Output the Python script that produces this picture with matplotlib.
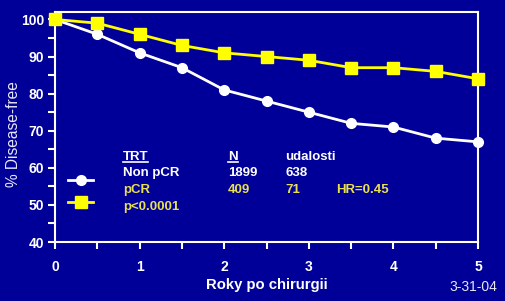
import matplotlib
matplotlib.use("Agg")
from matplotlib import pyplot as plt
from matplotlib.lines import Line2D

years = [0, 0.5, 1, 1.5, 2, 2.5, 3, 3.5, 4, 4.5, 5]
non_pcr = [100, 96, 91, 87, 81, 78, 75, 72, 71, 68, 67]
pcr = [100, 99, 96, 93, 91, 90, 89, 87, 87, 86, 84]

x_ticks = [0, 0.5, 1, 1.5, 2, 2.5, 3, 3.5, 4, 4.5, 5]
x_labels = ["0", "", "1", "", "2", "", "3", "", "4", "", "5"]
y_major = [40, 50, 60, 70, 80, 90, 100]
y_minor = [45, 55, 65, 75, 85, 95]

bg = "#000099"
white = "#FFFFFF"
yellow = "#FFFF00"
txt_yellow = "#E8E050"

plt.rcParams["font.family"] = ["Liberation Sans", "DejaVu Sans"]

fig = plt.figure(figsize=(5.06, 3.01), dpi=100, facecolor=bg)
ax = fig.add_axes([0.1087, 0.196, 0.836, 0.764])
ax.set_facecolor(bg)

ax.plot(years, non_pcr, color=white, lw=2, marker="o", ms=7, clip_on=False, zorder=3)
ax.plot(years, pcr, color=yellow, lw=2, marker="s", ms=8, clip_on=False, zorder=3)

ax.set_xlim(0, 5)
ax.set_ylim(40, 102)
ax.set_xticks(x_ticks)
ax.set_xticklabels(x_labels)
ax.set_yticks(y_major)
ax.set_yticks(y_minor, minor=True)

for s in ax.spines.values():
    s.set_color(white)
    s.set_linewidth(1.5)

ax.tick_params(axis="x", colors=white, length=5, width=1.5, pad=8, labelsize=10)
ax.tick_params(axis="y", which="both", colors=white, length=5, width=1.5, pad=3, labelsize=10)
for lab in ax.get_xticklabels() + ax.get_yticklabels():
    lab.set_fontweight("bold")

ax.set_xlabel("Roky po chirurgii", color=white, fontsize=10.7, fontweight="bold", labelpad=3)
fig.text(14 / 506, 1 - 134 / 301, "% Disease-free", color="#E8E8F4", fontsize=11.2,
         rotation=90, ha="center", va="center")
fig.text(473 / 506, 1 - 287 / 301, "3-31-04", color="#E8E8F4", fontsize=10,
         ha="center", va="center")

# legend symbols
h1 = Line2D([], [], color=white, lw=2, marker="o", ms=7)
h2 = Line2D([], [], color=yellow, lw=2, marker="s", ms=8)
ax.legend([h1, h2], ["", ""], loc="upper left", bbox_to_anchor=(0.005, 0.34),
          frameon=False, handlelength=2.0, fontsize=9, labelspacing=0.8)

# table of counts
kw = dict(fontsize=9.5, fontweight="bold", va="center", ha="left")
t_trt = ax.text(0.80, 62.8, "TRT", color=white, **kw)
ax.text(0.80, 58.5, "Non pCR", color=white, **kw)
ax.text(0.80, 54.0, "pCR", color=txt_yellow, **kw)
ax.text(0.80, 49.4, "p<0.0001", color=txt_yellow, **kw)
t_n = ax.text(2.045, 62.8, "N", color=white, **kw)
ax.text(2.045, 58.5, "1899", color=white, **kw)
ax.text(2.045, 54.0, "409", color=txt_yellow, **kw)
ax.text(2.72, 62.8, "udalosti", color=white, **kw)
ax.text(2.72, 58.5, "638", color=white, **kw)
ax.text(2.72, 54.0, "71", color=txt_yellow, **kw)
ax.text(3.32, 54.0, "HR=0.45", color=txt_yellow, **kw)

# underline the headers
fig.canvas.draw()
r = fig.canvas.get_renderer()
for t in (t_trt, t_n):
    bb = t.get_window_extent(r)
    yline = bb.y0 + 1
    fig.add_artist(Line2D([bb.x0 / fig.bbox.width, bb.x1 / fig.bbox.width],
                          [yline / fig.bbox.height] * 2, color=white, lw=1.2))

fig.savefig("out.png", dpi=100, facecolor=bg)
